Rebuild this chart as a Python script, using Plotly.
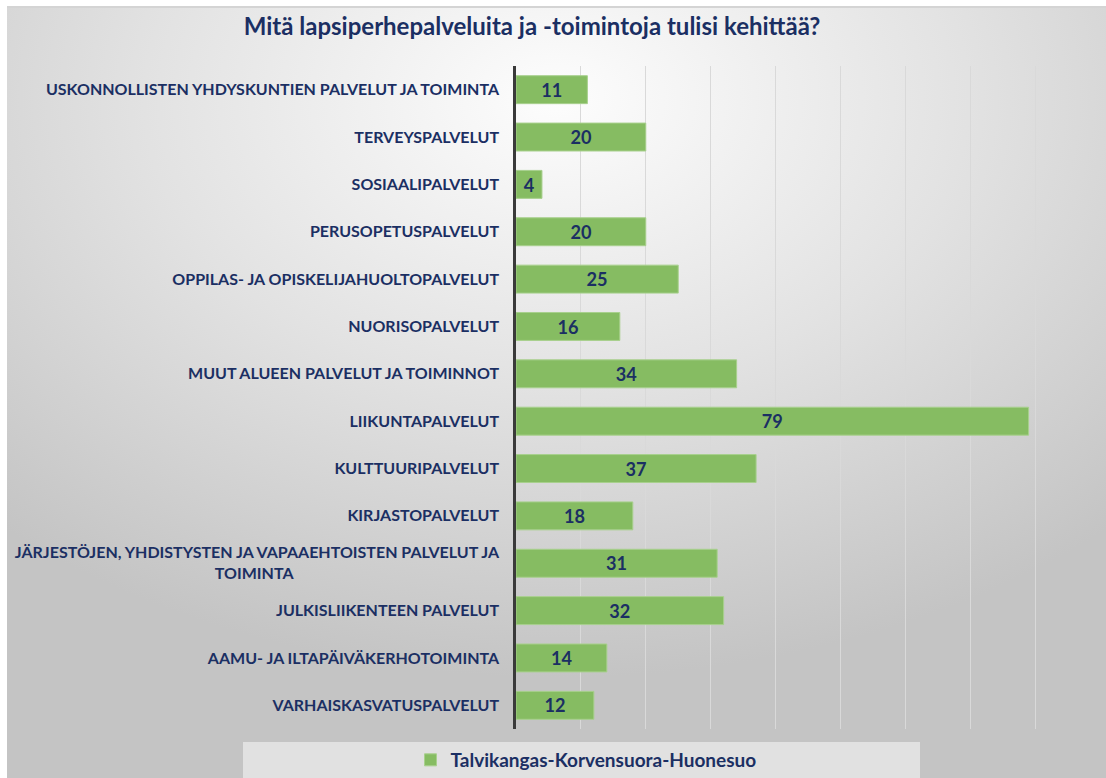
import base64
import plotly.graph_objects as go

categories = [
    "USKONNOLLISTEN YHDYSKUNTIEN PALVELUT JA TOIMINTA",
    "TERVEYSPALVELUT",
    "SOSIAALIPALVELUT",
    "PERUSOPETUSPALVELUT",
    "OPPILAS- JA OPISKELIJAHUOLTOPALVELUT",
    "NUORISOPALVELUT",
    "MUUT ALUEEN PALVELUT JA TOIMINNOT",
    "LIIKUNTAPALVELUT",
    "KULTTUURIPALVELUT",
    "KIRJASTOPALVELUT",
    "JÄRJESTÖJEN, YHDISTYSTEN JA VAPAAEHTOISTEN PALVELUT JA<br>TOIMINTA" + "\u00a0" * 53,
    "JULKISLIIKENTEEN PALVELUT",
    "AAMU- JA ILTAPÄIVÄKERHOTOIMINTA",
    "VARHAISKASVATUSPALVELUT",
]
values = [11, 20, 4, 20, 25, 16, 34, 79, 37, 18, 31, 32, 14, 12]
series_name = "Talvikangas-Korvensuora-Huonesuo"
title_text = "Mitä lapsiperhepalveluita ja -toimintoja tulisi kehittää?"

W, H = 1106, 778
ML, MR, MT, MB = 516, 6, 66, 49
NAVY = "#1B2F63"
GREEN = "#86BC62"
FONT = "Lato"

svg = f'''<svg xmlns="http://www.w3.org/2000/svg" width="{W}" height="{H}" viewBox="0 0 {W} {H}">
<defs><radialGradient id="g" cx="0.5" cy="0.12" r="0.75">
<stop offset="0" stop-color="#fdfdfd"/><stop offset="0.5" stop-color="#e2e2e2"/><stop offset="1" stop-color="#c4c4c4"/>
</radialGradient></defs>
<rect x="0" y="0" width="{W}" height="{H}" fill="#ffffff"/>
<rect x="7" y="6" width="{W-7}" height="{H-6}" fill="url(#g)"/>
<rect x="7" y="6" width="{W-7}" height="2" fill="#d4d4d4"/>
<rect x="243" y="742" width="677" height="{H-742}" fill="#e1e1e1"/>
</svg>'''
src = "data:image/svg+xml;base64," + base64.b64encode(svg.encode("utf-8")).decode()

pw = W - ML - MR
ph = H - MT - MB

fig = go.Figure()
fig.add_trace(go.Bar(
    y=categories, x=values, orientation="h", name=series_name,
    marker=dict(color=GREEN, line=dict(color="#a8d08d", width=1)),
    text=values, textposition="inside", insidetextanchor="middle", textangle=0,
    textfont=dict(family=FONT, size=19, color=NAVY, weight="bold"),
    showlegend=True,
))

fig.update_layout(
    width=W, height=H, autosize=False,
    margin=dict(l=ML, r=MR, t=MT, b=MB),
    paper_bgcolor="rgba(0,0,0,0)",
    plot_bgcolor="#ffffff",
    bargap=0.41,
    uniformtext=dict(minsize=18, mode="show"),
    title=dict(text=title_text, x=532 / W, xref="container", xanchor="center",
               y=1 - 27 / H, yref="container", yanchor="middle",
               font=dict(family=FONT, size=24, color=NAVY, weight="bold")),
    legend=dict(orientation="h", xref="container", yref="container",
                x=586 / W, xanchor="center", y=18 / H, yanchor="middle",
                bgcolor="rgba(0,0,0,0)", itemwidth=30,
                font=dict(family=FONT, size=19, color=NAVY, weight="bold")),
    images=[dict(source=src, xref="paper", yref="paper",
                 x=-ML / pw, y=(ph + MT) / ph, sizex=W / pw, sizey=H / ph,
                 xanchor="left", yanchor="top", sizing="stretch", layer="below")],
    xaxis=dict(range=[0, 90], dtick=10, showticklabels=False, showgrid=True,
               gridcolor="#d9d9d9", gridwidth=1, zeroline=False, showline=False,
               fixedrange=True),
    yaxis=dict(autorange="reversed", showline=True, linecolor="#3a3a3a", linewidth=2.5,
               ticks="outside", ticklen=11, tickcolor="rgba(0,0,0,0)",
               tickfont=dict(family=FONT, size=16, color=NAVY, weight="bold"),
               showgrid=False),
)

fig.write_html("out.html", config={"displayModeBar": False},
               post_script="document.body.style.margin='0';document.body.style.overflow='hidden';")
